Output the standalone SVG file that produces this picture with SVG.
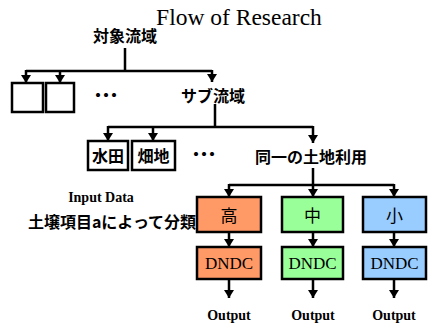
<svg xmlns="http://www.w3.org/2000/svg" width="428" height="325" viewBox="0 0 428 325">
<style>
.ln{stroke:#000;stroke-width:2.5;fill:none}
.ar{stroke:#000;stroke-width:2.5;fill:none;marker-end:url(#ah)}
.bx{stroke:#000;stroke-width:2.5}
.jp{font-family:"Noto Sans CJK JP","Noto Sans",sans-serif;font-weight:bold;font-size:16px;text-anchor:middle}
.jn{font-family:"Noto Sans CJK JP","Noto Sans",sans-serif;font-size:17px;text-anchor:middle}
.dt{font-family:"Noto Sans CJK JP","Noto Sans",sans-serif;font-weight:bold;font-size:16px;letter-spacing:-8px}
.sf{font-family:"Liberation Serif",serif;text-anchor:middle}
</style>
<defs>
<marker id="ah" markerUnits="userSpaceOnUse" markerWidth="10" markerHeight="10" viewBox="0 0 10 10" refX="5" refY="10" orient="0">
<path d="M0,2 L10,2 L5,10 Z" fill="#000"/>
</marker>
</defs>
<rect width="428" height="325" fill="#fff"/>
<text class="sf" x="239" y="25" font-size="23.5">Flow of Research</text>
<g id="connectors">
<path class="ln" d="M125,48 V71 M26,71 H212"/>
<line class="ar" x1="26" y1="70" x2="26" y2="83"/>
<line class="ar" x1="60" y1="70" x2="60" y2="83"/>
<line class="ar" x1="212" y1="70" x2="212" y2="82"/>
<path class="ln" d="M215,104 V127 M108,127 H313"/>
<line class="ar" x1="108" y1="126" x2="108" y2="141"/>
<line class="ar" x1="153" y1="126" x2="153" y2="141"/>
<line class="ar" x1="313" y1="126" x2="313" y2="143"/>
<path class="ln" d="M313,168 V185 M229,185 H394"/>
<line class="ar" x1="229" y1="184" x2="229" y2="197"/>
<line class="ar" x1="313" y1="184" x2="313" y2="197"/>
<line class="ar" x1="394" y1="184" x2="394" y2="197"/>
<line class="ar" x1="229" y1="232" x2="229" y2="247"/>
<line class="ar" x1="313" y1="232" x2="313" y2="247"/>
<line class="ar" x1="394" y1="232" x2="394" y2="247"/>
<line class="ar" x1="229" y1="279" x2="229" y2="298"/>
<line class="ar" x1="313" y1="279" x2="313" y2="298"/>
<line class="ar" x1="394" y1="279" x2="394" y2="298"/>
</g>
<g id="n-taisho"><text class="jp" x="125" y="42">対象流域</text></g>
<g id="n-box1"><rect class="bx" x="12" y="83" width="31" height="29" fill="#fff"/></g>
<g id="n-box2"><rect class="bx" x="46" y="83" width="28" height="29" fill="#fff"/></g>
<g id="n-dots1"><text class="dt" x="90" y="101">・・・</text></g>
<g id="n-dots2"><text class="dt" x="188" y="160">・・・</text></g>
<g id="n-sub"><text class="jp" x="213" y="102">サブ流域</text></g>
<g id="n-suiden"><rect class="bx" x="88" y="141" width="40" height="29" fill="#fff"/><text class="jp" x="108" y="162">水田</text></g>
<g id="n-hatachi"><rect class="bx" x="132" y="141" width="43" height="29" fill="#fff"/><text class="jp" x="153.5" y="162">畑地</text></g>
<g id="n-doitsu"><text class="jp" x="311" y="163">同一の土地利用</text></g>
<g id="n-input"><text class="sf" x="101" y="202" font-size="14" font-weight="bold">Input Data</text></g>
<g id="n-dojo"><text class="jp" x="112" y="228" font-size="15.5">土壌項目aによって分類</text></g>
<g id="n-high"><rect class="bx" x="197" y="197" width="64" height="35" fill="#FF9966"/><text class="jn" x="229" y="222">高</text></g>
<g id="n-mid"><rect class="bx" x="282" y="197" width="61" height="35" fill="#99FF99"/><text class="jn" x="312.5" y="222">中</text></g>
<g id="n-low"><rect class="bx" x="363" y="197" width="63" height="35" fill="#99CCFF"/><text class="jn" x="394.5" y="222">小</text></g>
<g id="n-dndc1"><rect class="bx" x="197" y="247" width="64" height="32" fill="#FF9966"/><text class="sf" x="229" y="269" font-size="17">DNDC</text></g>
<g id="n-dndc2"><rect class="bx" x="282" y="247" width="61" height="32" fill="#99FF99"/><text class="sf" x="312.5" y="269" font-size="17">DNDC</text></g>
<g id="n-dndc3"><rect class="bx" x="363" y="247" width="63" height="32" fill="#99CCFF"/><text class="sf" x="394.5" y="269" font-size="17">DNDC</text></g>
<g id="n-out1"><text class="sf" x="229" y="320" font-size="14" font-weight="bold">Output</text></g>
<g id="n-out2"><text class="sf" x="313" y="320" font-size="14" font-weight="bold">Output</text></g>
<g id="n-out3"><text class="sf" x="394" y="320" font-size="14" font-weight="bold">Output</text></g>
</svg>
